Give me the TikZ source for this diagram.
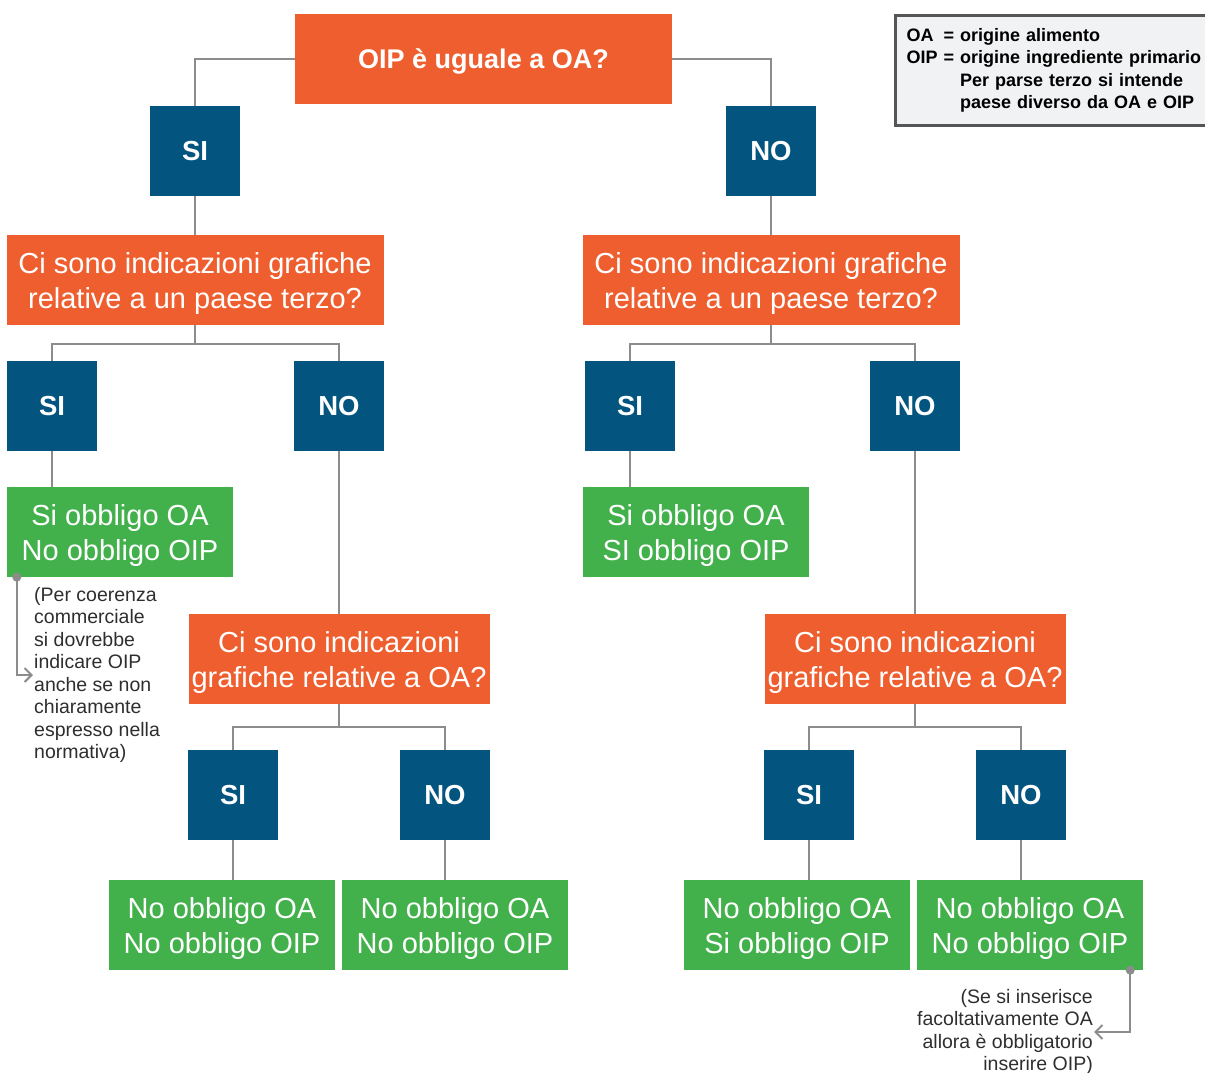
\documentclass[tikz,border=0pt]{standalone}
\usepackage{fontspec}
\setmainfont{Liberation Sans}
\usetikzlibrary{arrows.meta}

\definecolor{qorange}{HTML}{EF5E2E}
\definecolor{ansblue}{HTML}{03557F}
\definecolor{resgreen}{HTML}{43B14B}
\definecolor{linkgray}{HTML}{8C8C8C}
\definecolor{keyfill}{HTML}{F1F2F4}
\definecolor{keyline}{HTML}{555555}
\definecolor{notetext}{HTML}{2E2E2E}

\tikzstyle{question} = [fill=qorange, text=white, minimum width=377pt, minimum height=90pt, inner sep=0pt, align=center, text depth=-2pt, font=\fontsize{29}{35}\selectfont]
\tikzstyle{rootq} = [fill=qorange, text=white, minimum width=377pt, minimum height=90pt, inner sep=0pt, font=\bfseries\fontsize{27}{32}\selectfont, execute at begin node={\rule{0pt}{24pt}}]
\tikzstyle{answer} = [fill=ansblue, text=white, minimum size=90pt, inner sep=0pt, font=\bfseries\fontsize{27.5}{32}\selectfont]
\tikzstyle{outcome} = [fill=resgreen, text=white, minimum width=226pt, minimum height=90pt, inner sep=0pt, align=center, text depth=-2pt, font=\fontsize{29}{35}\selectfont]
\tikzstyle{link} = [draw=linkgray, line width=2.5pt]
\tikzstyle{notelink} = [draw=linkgray, line width=2pt, -{Straight Barb[length=7pt,width=14pt]}]
\tikzstyle{note} = [text=notetext, inner sep=1pt, font=\fontsize{19.5}{22.5}\selectfont]
\tikzstyle{keybox} = [fill=keyfill, draw=keyline, line width=3pt, text width=310pt, inner xsep=11pt, minimum height=110pt, align=left, font=\bfseries\fontsize{18}{22.5}\selectfont]

\begin{document}
\begin{tikzpicture}[x=1pt,y=-1pt]
	\useasboundingbox (0,0) rectangle (1205,1073);

	\node[rootq] (q0) at (483.5,59) {OIP è uguale a OA?};
	\node[answer] (s1) at (195,151) {SI};
	\node[answer] (n1) at (771,151) {NO};

	\node[question] (qs) at (195,280) {Ci sono indicazioni grafiche\\relative a un paese terzo?};
	\node[question] (qn) at (771,280) {Ci sono indicazioni grafiche\\relative a un paese terzo?};

	\node[answer] (ss) at (52,406) {SI};
	\node[answer] (sn) at (339,406) {NO};
	\node[answer] (ns) at (630,406) {SI};
	\node[answer] (nn) at (915,406) {NO};

	\node[outcome] (oss) at (120,532) {Si obbligo OA\\No obbligo OIP};
	\node[outcome] (ons) at (696,532) {Si obbligo OA\\SI obbligo OIP};

	\node[question, minimum width=301pt] (qsn) at (339,659) {Ci sono indicazioni\\grafiche relative a OA?};
	\node[question, minimum width=301pt] (qnn) at (915,659) {Ci sono indicazioni\\grafiche relative a OA?};

	\node[answer] (sns) at (233,795) {SI};
	\node[answer] (snn) at (445,795) {NO};
	\node[answer] (nns) at (809,795) {SI};
	\node[answer] (nnn) at (1021,795) {NO};

	\node[outcome] (osns) at (222,925) {No obbligo OA\\No obbligo OIP};
	\node[outcome] (osnn) at (455,925) {No obbligo OA\\No obbligo OIP};
	\node[outcome] (onns) at (797,925) {No obbligo OA\\Si obbligo OIP};
	\node[outcome] (onnn) at (1030,925) {No obbligo OA\\No obbligo OIP};

	\node[note, anchor=west, align=left] (noteA) at (33,675) {(Per coerenza\\commerciale\\si dovrebbe\\indicare OIP\\anche se non\\chiaramente\\espresso nella\\normativa)};
	\node[note, anchor=east, align=right] (noteB) at (1094,1032) {(Se si inserisce\\facoltativamente OA\\allora è obbligatorio\\inserire OIP)};

	\node[keybox, anchor=north west] (key) at (894,14) {\begin{tabular}{@{}l@{ }l@{ }l@{}}
		OA & = & origine alimento\\
		OIP & = & origine ingrediente primario\\
		& & Per parse terzo si intende\\
		& & paese diverso da OA e OIP
	\end{tabular}};

	\draw[link] (q0.west) -| (s1.north);
	\draw[link] (q0.east) -| (n1.north);
	\draw[link] (s1.south) -- (qs.north);
	\draw[link] (n1.south) -- (qn.north);

	\draw[link] (qs.south) -- ++(0,19) coordinate (fs);
	\draw[link] (ss.north) |- (fs) -| (sn.north);
	\draw[link] (qn.south) -- ++(0,19) coordinate (fn);
	\draw[link] (ns.north) |- (fn) -| (nn.north);

	\draw[link] (ss.south) -- (ss.south |- oss.north);
	\draw[link] (ns.south) -- (ns.south |- ons.north);
	\draw[link] (sn.south) -- (qsn.north);
	\draw[link] (nn.south) -- (qnn.north);

	\draw[link] (qsn.south) -- ++(0,23) coordinate (fsn);
	\draw[link] (sns.north) |- (fsn) -| (snn.north);
	\draw[link] (qnn.south) -- ++(0,23) coordinate (fnn);
	\draw[link] (nns.north) |- (fnn) -| (nnn.north);

	\draw[link] (sns.south) -- (sns.south |- osns.north);
	\draw[link] (snn.south) -- (snn.south |- osnn.north);
	\draw[link] (nns.south) -- (nns.south |- onns.north);
	\draw[link] (nnn.south) -- (nnn.south |- onnn.north);

	\coordinate (dotA) at ([xshift=10pt]oss.south west);
	\coordinate (dotB) at ([xshift=-13pt]onnn.south east);
	\draw[notelink] (dotA) |- (noteA.west);
	\draw[notelink] (dotB) |- (noteB.east);
	\fill[linkgray] (dotA) circle (4.5pt);
	\fill[linkgray] (dotB) circle (4.5pt);
\end{tikzpicture}
\end{document}
